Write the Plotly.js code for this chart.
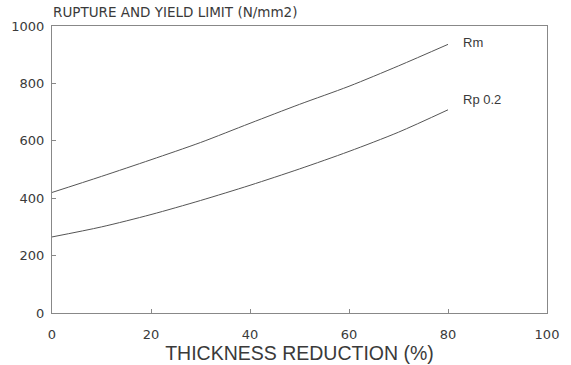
<!DOCTYPE html>
<html>
<head>
<meta charset="utf-8">
<script src="https://cdn.plot.ly/plotly-3.0.1.min.js"></script>
<style>html,body{margin:0;padding:0;background:#fff;}#chart{width:571px;height:365px;}</style>
</head>
<body>
<div id="chart"></div>
<script>
const reduction = [0, 10, 20, 30, 40, 50, 60, 70, 80];
const rm = [420, 476, 534, 594, 661, 727, 790, 861, 936];
const rp02 = [265, 300, 343, 392, 445, 502, 563, 630, 708];
const seriesNames = ["Rm", "Rp 0.2"];
const labelPos = [[82.6, 942], [82.6, 743]];
const xTicks = [0, 20, 40, 60, 80, 100];
const yTicks = [0, 200, 400, 600, 800, 1000];
const chartTitle = "RUPTURE AND YIELD LIMIT (N/mm2)";
const xTitle = "THICKNESS REDUCTION (%)";

const ink = "#3a3a3a";
const sans = "Liberation Sans, Arial, sans-serif";
const wide = "DejaVu Sans, sans-serif";

const traces = [rm, rp02].map((ys, i) => ({
  x: reduction, y: ys, name: seriesNames[i], type: "scatter", mode: "lines",
  line: {color: "#555", width: 1, shape: "spline", smoothing: 0.8}, hoverinfo: "skip"
}));

const axisCommon = {
  showgrid: false, zeroline: false, showline: true, linecolor: "#888", linewidth: 1,
  mirror: true, ticks: "inside", ticklen: 4, tickcolor: "#888",
  tickfont: {family: wide, color: ink, size: 13}
};

const layout = {
  width: 571, height: 365,
  margin: {l: 52, r: 24, t: 26, b: 51.5},
  paper_bgcolor: "#fff", plot_bgcolor: "#fff",
  showlegend: false,
  font: {family: sans, color: ink},
  xaxis: Object.assign({}, axisCommon, {
    range: [0, 100], tickvals: xTicks, ticklabelstandoff: 9,
    title: {text: xTitle, font: {family: sans, color: ink, size: 19.5}, standoff: 0}
  }),
  yaxis: Object.assign({}, axisCommon, {
    range: [0, 1000], tickvals: yTicks, ticklabelstandoff: 4
  }),
  annotations: seriesNames.map((n, i) => ({
    x: labelPos[i][0], y: labelPos[i][1], xref: "x", yref: "y",
    text: n, showarrow: false, xanchor: "left", yanchor: "middle",
    font: {family: sans, color: ink, size: 13}
  })).concat([{
    x: 0, y: 1, xref: "paper", yref: "paper", xanchor: "left", yanchor: "middle",
    width: 300, align: "left", borderpad: 0,
    xshift: 0, yshift: 14, showarrow: false, text: chartTitle,
    font: {family: wide, color: ink, size: 13.5}
  }])
};

Plotly.newPlot("chart", traces, layout, {staticPlot: true, displayModeBar: false});
</script>
</body>
</html>
